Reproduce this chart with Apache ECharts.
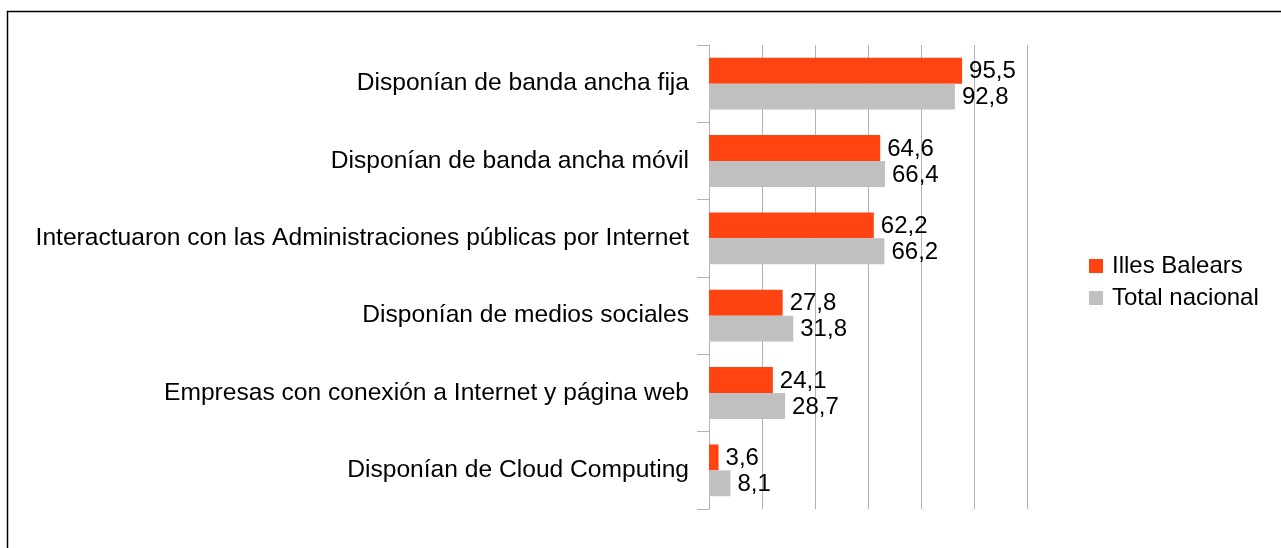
<!DOCTYPE html>
<html>
<head>
<meta charset="utf-8">
<script src="https://cdn.jsdelivr.net/npm/echarts@6/dist/echarts.min.js"></script>
<style>
  html, body { margin: 0; padding: 0; background: #fff; }
  #chartID { width: 1281px; height: 548px; }
</style>
</head>
<body>
<div id="chartID"></div>
<script>
var categories = [
    'Disponían de banda ancha fija',
    'Disponían de banda ancha móvil',
    'Interactuaron con las Administraciones públicas por Internet',
    'Disponían de medios sociales',
    'Empresas con conexión a Internet y página web',
    'Disponían de Cloud Computing'
];
var illesBalears = [95.5, 64.6, 62.2, 27.8, 24.1, 3.6];
var totalNacional = [92.8, 66.4, 66.2, 31.8, 28.7, 8.1];

var chart = echarts.init(document.getElementById('chartID'));

var labelStyle = {
    show: true,
    position: 'right',
    distance: 7,
    offset: [0, 1],
    color: '#000',
    fontSize: 24,
    fontFamily: 'Liberation Sans',
    formatter: function (p) {
        return String(p.value).replace('.', ',');
    }
};

var option = {
    animation: false,
    textStyle: { fontFamily: 'Liberation Sans' },
    graphic: [{
        type: 'rect',
        shape: { x: 7.5, y: 11.5, width: 1400, height: 700 },
        style: { fill: 'none', stroke: '#000', lineWidth: 1.5 },
        silent: true
    }],
    legend: {
        orient: 'vertical',
        left: 1084,
        top: 249,
        itemWidth: 14,
        itemHeight: 14,
        itemGap: 8,
        icon: 'rect',
        textStyle: { fontSize: 24, color: '#000', fontFamily: 'Liberation Sans', padding: [0, 0, 0, 4] },
        data: ['Illes Balears', 'Total nacional']
    },
    grid: {
        left: 709,
        right: 254,
        top: 45,
        bottom: 39
    },
    xAxis: {
        type: 'value',
        min: 0,
        max: 120,
        interval: 20,
        axisLabel: { show: false },
        axisLine: { show: false },
        axisTick: { show: false },
        splitLine: { lineStyle: { color: '#b3b3b3', width: 1 } }
    },
    yAxis: {
        type: 'category',
        inverse: true,
        data: categories,
        axisLine: { show: true, lineStyle: { color: '#b3b3b3', width: 1 } },
        axisTick: { show: true, length: 12, lineStyle: { color: '#b3b3b3' } },
        axisLabel: { fontSize: 24.6, color: '#000', margin: 20, fontFamily: 'Liberation Sans' }
    },
    series: [
        {
            name: 'Illes Balears',
            type: 'bar',
            data: illesBalears,
            barGap: '0%',
            barCategoryGap: '33%',
            itemStyle: { color: '#ff4412' },
            label: labelStyle
        },
        {
            name: 'Total nacional',
            type: 'bar',
            data: totalNacional,
            barGap: '0%',
            barCategoryGap: '33%',
            itemStyle: { color: '#c0c0c0' },
            label: labelStyle
        }
    ]
};

option && chart.setOption(option);
</script>
</body>
</html>
